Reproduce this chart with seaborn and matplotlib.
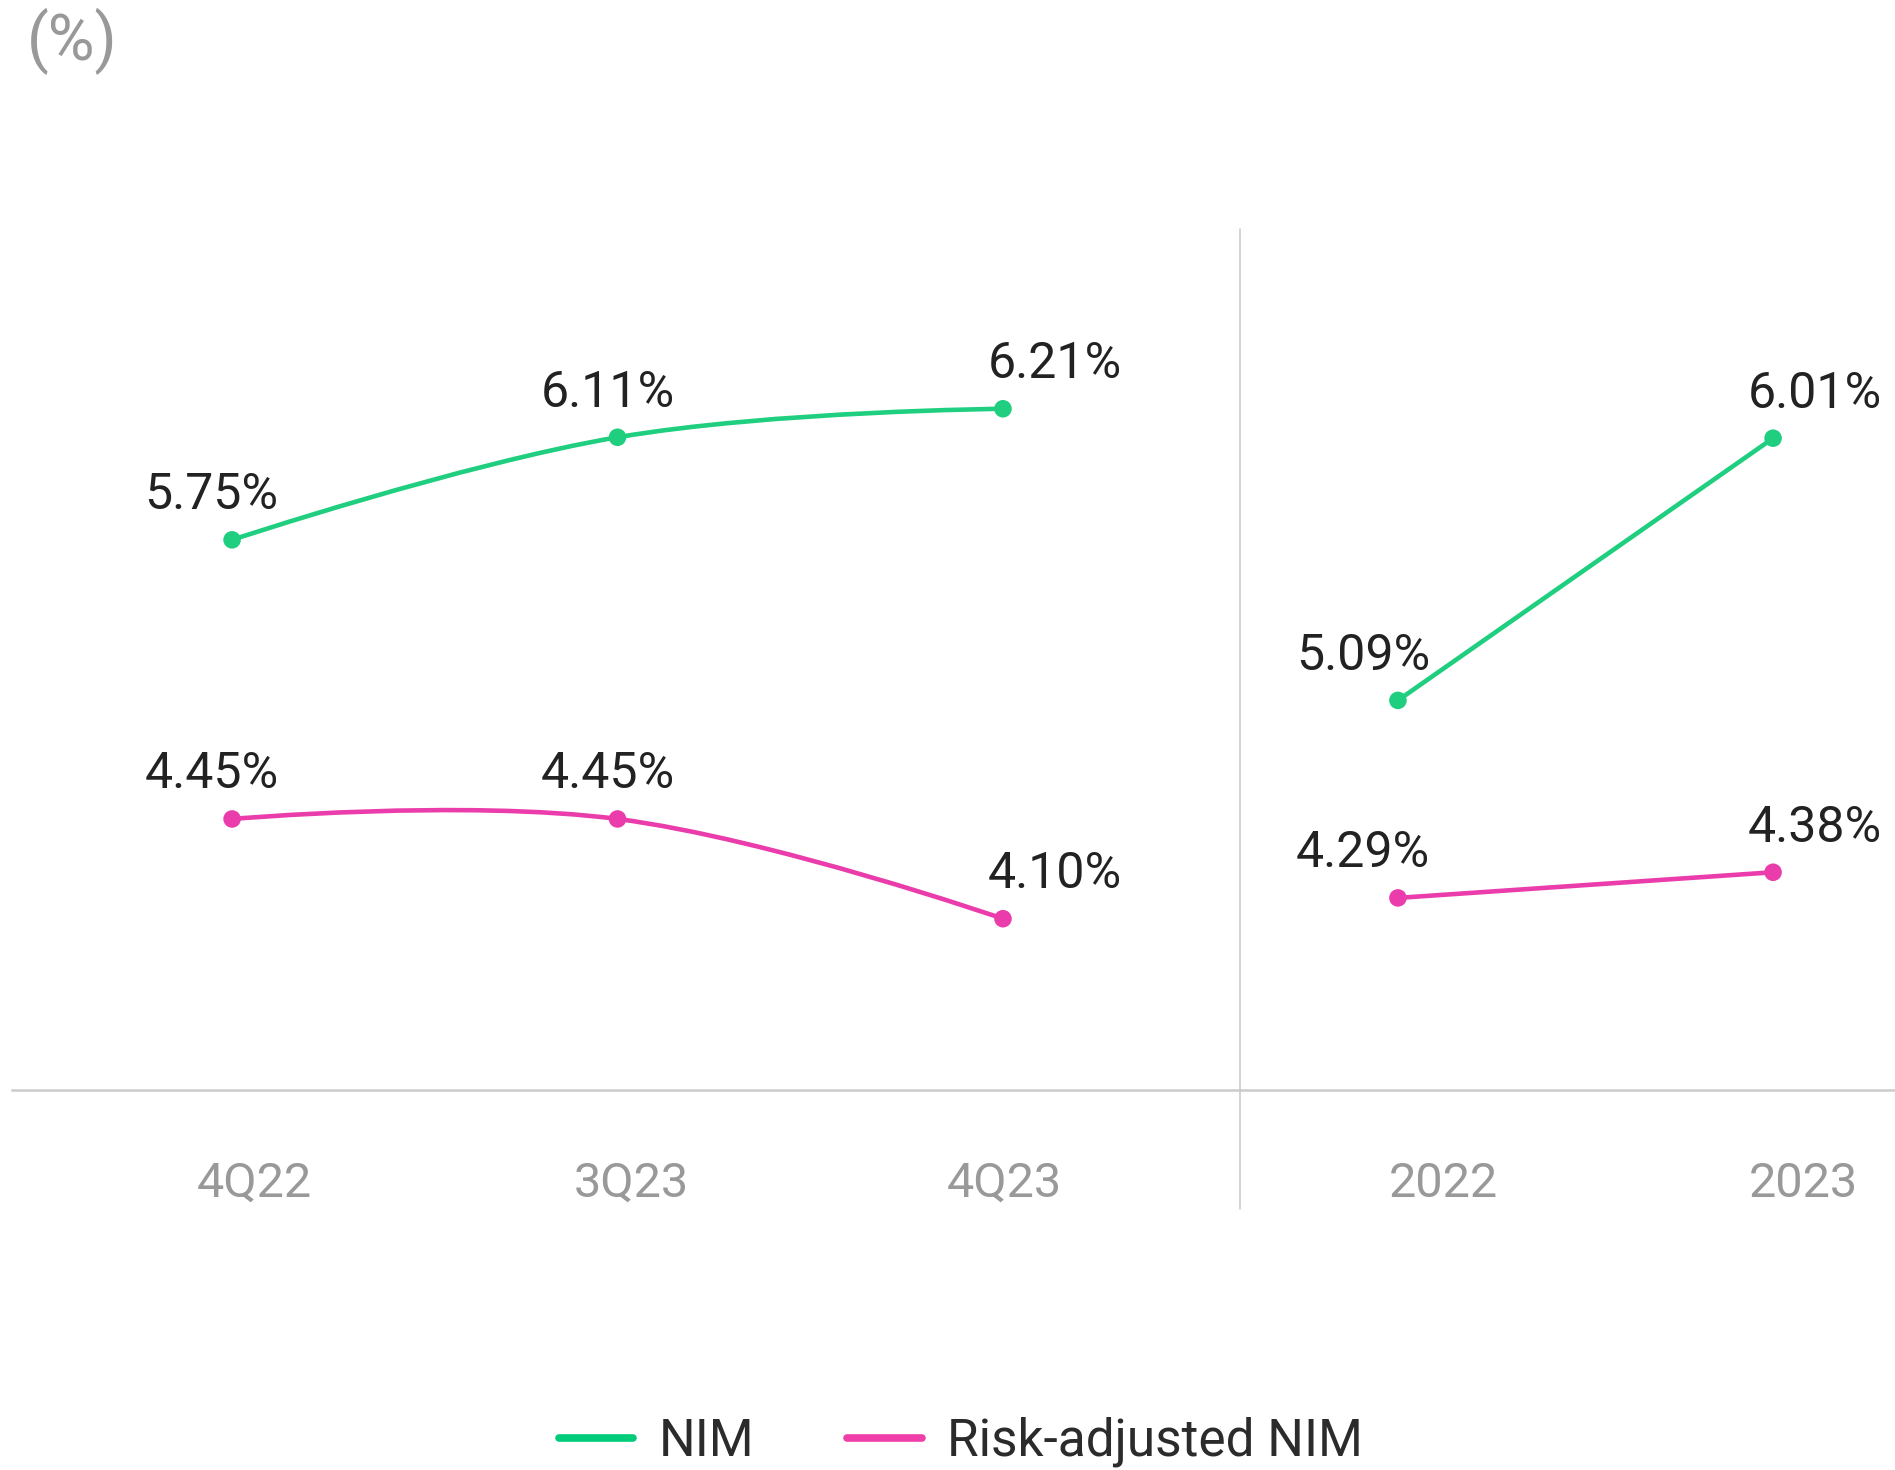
import numpy as np
import matplotlib
matplotlib.use("Agg")
import matplotlib.pyplot as plt
import matplotlib.transforms as mtransforms
from matplotlib.path import Path
from matplotlib.patches import PathPatch
from matplotlib.lines import Line2D
import seaborn as sns

# ============================
# data
# ============================
quarters = ["4Q22", "3Q23", "4Q23"]
years = ["2022", "2023"]

nim_quarters = [5.75, 6.11, 6.21]
risk_quarters = [4.45, 4.45, 4.10]

nim_years = [5.09, 6.01]
risk_years = [4.29, 4.38]

# ============================
# style
# ============================
sns.set_theme(style="white")
plt.rcParams["font.family"] = ["Roboto", "DejaVu Sans"]

GREEN = "#1fcf7f"
PINK = "#ea3dab"
GREY_TXT = "#999999"
DARK_TXT = "#222222"
RULE = "#cccccc"

fig = plt.figure(figsize=(18.95, 14.7), dpi=100)
W, H = 1895, 1470
top, bottom = 229, 1090

ax_q = fig.add_axes([12 / W, 1 - bottom / H, (1240 - 12) / W, (bottom - top) / H])
ax_y = fig.add_axes([1240 / W, 1 - bottom / H, (W - 1240) / W, (bottom - top) / H])
ax_q2 = ax_q.twinx()
ax_y2 = ax_y.twinx()


def spline_path(xs, ys):
    # highcharts-like spline: bezier control points from neighbours
    n = len(xs)
    left = [(x, y) for x, y in zip(xs, ys)]
    right = [(x, y) for x, y in zip(xs, ys)]
    for i in range(1, n - 1):
        lx = (1.5 * xs[i] + xs[i - 1]) / 2.5
        ly = (1.5 * ys[i] + ys[i - 1]) / 2.5
        rx = (1.5 * xs[i] + xs[i + 1]) / 2.5
        ry = (1.5 * ys[i] + ys[i + 1]) / 2.5
        corr = (ry - ly) * (rx - xs[i]) / (rx - lx) + ys[i] - ry
        left[i] = (lx, ly + corr)
        right[i] = (rx, ry + corr)
    verts = [(xs[0], ys[0])]
    codes = [Path.MOVETO]
    for i in range(1, n):
        verts += [right[i - 1], left[i], (xs[i], ys[i])]
        codes += [Path.CURVE4] * 3
    return Path(verts, codes)


def draw_series(ax, values, color, label_dx):
    xs = np.arange(len(values))
    ax.add_patch(PathPatch(spline_path(list(xs), list(values)), facecolor="none",
                           edgecolor=color, lw=3.3, capstyle="round", zorder=2))
    sns.scatterplot(x=xs, y=values, ax=ax, color=color, s=160,
                    edgecolor="none", zorder=3, legend=False)
    for x, v, dx in zip(xs, values, label_dx):
        ax.annotate(f"{v:.2f}%", (x, v), xytext=(dx, 22), textcoords="offset points",
                    ha="center", va="baseline", fontsize=36, color=DARK_TXT)


label_dx_q = [-15, -7, 37]
label_dx_y = [-25, 30]

draw_series(ax_q, nim_quarters, GREEN, label_dx_q)
draw_series(ax_q2, risk_quarters, PINK, label_dx_q)
draw_series(ax_y, nim_years, GREEN, label_dx_y)
draw_series(ax_y2, risk_years, PINK, label_dx_y)

# scales
ax_q.set_xlim(-0.571, 2.615)
ax_y.set_xlim(-0.421, 1.325)
ax_q.set_ylim(3.819, 6.841)
ax_q2.set_ylim(3.499, 6.520)
ax_y.set_ylim(3.723, 6.744)
ax_y2.set_ylim(3.616, 6.637)

for a in [ax_q, ax_q2, ax_y, ax_y2]:
    for s in a.spines.values():
        s.set_visible(False)
    a.set_yticks([])
    a.set_ylabel("")
    a.set_xlabel("")
    a.patch.set_alpha(0)

for a in [ax_q, ax_y]:
    a.spines["bottom"].set_visible(True)
    a.spines["bottom"].set_color(RULE)
    a.spines["bottom"].set_linewidth(1.8)

tick_dx_q = [16, 10, 1]
tick_dx_y = [33, 22]
for a, labels, dxs in [(ax_q, quarters, tick_dx_q), (ax_y, years, tick_dx_y)]:
    a.set_xticks(np.arange(len(labels)))
    a.set_xticklabels(labels, fontsize=35, color=GREY_TXT)
    a.tick_params(axis="x", length=0, pad=51)
    for lab, dx in zip(a.get_xticklabels(), dxs):
        lab.set_transform(lab.get_transform() +
                          mtransforms.ScaledTranslation(dx / 72, 0, fig.dpi_scale_trans))

# divider between quarters and years
ax_q.axvline(2.615, ymin=-0.138, ymax=1, color=RULE, lw=1.2, clip_on=False)

# unit label
fig.text(27 / W, 1 - 8 / H, "(%)", fontsize=46, color=GREY_TXT, ha="left", va="top")

# legend
handles = [
    Line2D([0], [0], color="#00cc7a", lw=5.5, solid_capstyle="round"),
    Line2D([0], [0], color="#ee40a8", lw=5.5, solid_capstyle="round"),
]
fig.legend(handles, ["NIM", "Risk-adjusted NIM"], loc="center",
           bbox_to_anchor=(961 / W, 1 - 1442 / H), ncol=2, frameon=False,
           fontsize=37, labelcolor="#2b2b2b", handlelength=1.45,
           handletextpad=0.5, columnspacing=1.8)

fig.savefig("out.png", dpi=100)
